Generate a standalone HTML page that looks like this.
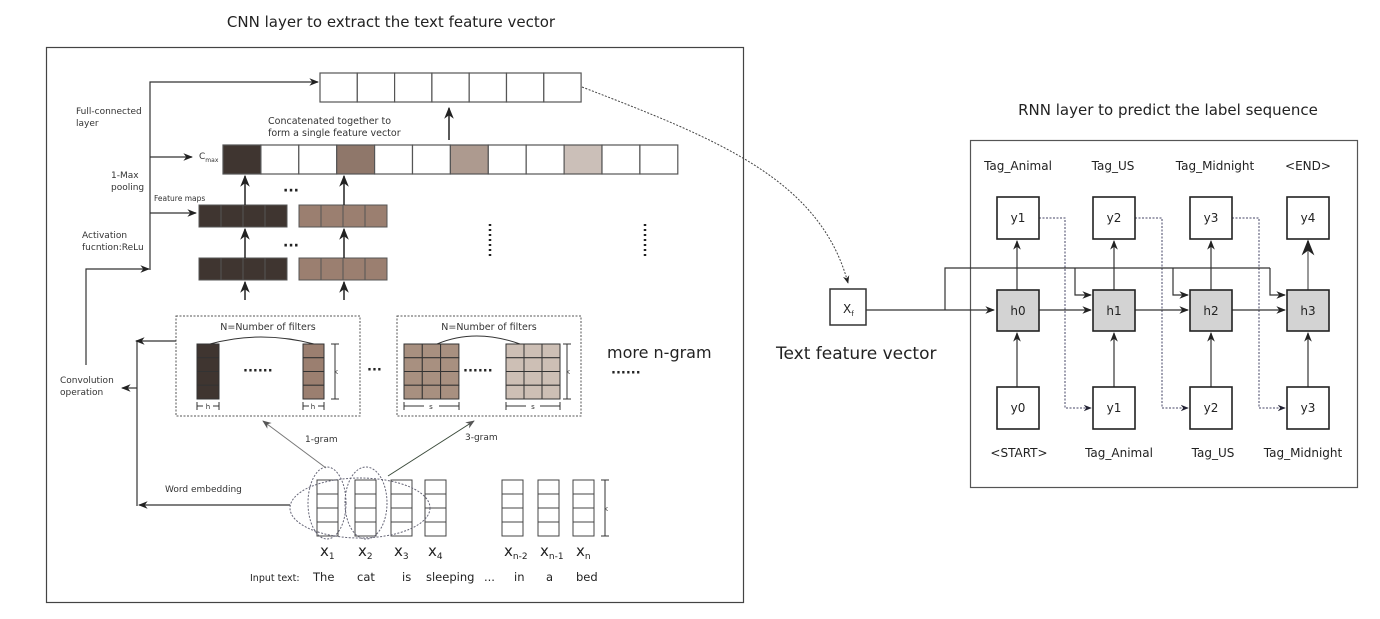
<!DOCTYPE html>
<html><head><meta charset="utf-8"><style>
html,body{margin:0;padding:0;background:#fff;}
svg{display:block;font-family:"DejaVu Sans","Liberation Sans",sans-serif;}
</style></head><body>
<svg width="1380" height="619" viewBox="0 0 1380 619" xmlns="http://www.w3.org/2000/svg">
<defs>
<marker id="a" viewBox="0 0 10 10" refX="9" refY="5" markerWidth="8" markerHeight="8" orient="auto-start-reverse"><path d="M0,1 L10,5 L0,9 L3,5 z" fill="#222"/></marker>
<marker id="b" viewBox="0 0 10 10" refX="9" refY="5" markerWidth="8" markerHeight="8" orient="auto"><path d="M0,1 L10,5 L0,9 L3,5 z" fill="#223"/></marker>
<marker id="g" viewBox="0 0 10 10" refX="9" refY="5" markerWidth="9" markerHeight="9" orient="auto"><path d="M0,1 L10,5 L0,9 L3,5 z" fill="#555"/></marker>
</defs>
<g fill="#222">
<text x="391" y="27" font-size="15" text-anchor="middle">CNN layer to extract the text feature vector</text>
<text x="1168" y="115" font-size="15" text-anchor="middle">RNN layer to predict the label sequence</text>
</g>
<rect x="46.5" y="47.5" width="697" height="555" fill="none" stroke="#444" stroke-width="1.2"/>
<!-- top vector -->
<g fill="#fff" stroke="#555" stroke-width="1.2">
<rect x="320" y="73" width="37.3" height="29"/><rect x="357.3" y="73" width="37.3" height="29"/><rect x="394.6" y="73" width="37.3" height="29"/><rect x="431.9" y="73" width="37.3" height="29"/><rect x="469.2" y="73" width="37.3" height="29"/><rect x="506.5" y="73" width="37.3" height="29"/><rect x="543.8" y="73" width="37.3" height="29"/>
</g>
<line x1="449" y1="140" x2="449" y2="108" stroke="#222" stroke-width="1.5" marker-end="url(#a)"/>
<text x="268" y="124" font-size="9.5" fill="#333">Concatenated together to</text>
<text x="268" y="136" font-size="9.5" fill="#333">form a single feature vector</text>
<!-- Cmax row -->
<g stroke="#555" stroke-width="1.2">
<rect x="223" y="145" width="37.9" height="29" fill="#3f3530"/>
<rect x="260.9" y="145" width="37.9" height="29" fill="#fff"/>
<rect x="298.8" y="145" width="37.9" height="29" fill="#fff"/>
<rect x="336.7" y="145" width="37.9" height="29" fill="#8f776a"/>
<rect x="374.6" y="145" width="37.9" height="29" fill="#fff"/>
<rect x="412.5" y="145" width="37.9" height="29" fill="#fff"/>
<rect x="450.4" y="145" width="37.9" height="29" fill="#ad9a8f"/>
<rect x="488.3" y="145" width="37.9" height="29" fill="#fff"/>
<rect x="526.2" y="145" width="37.9" height="29" fill="#fff"/>
<rect x="564.1" y="145" width="37.9" height="29" fill="#cbbfb8"/>
<rect x="602" y="145" width="37.9" height="29" fill="#fff"/>
<rect x="639.9" y="145" width="37.9" height="29" fill="#fff"/>
</g>
<text x="199" y="159" font-size="9" fill="#333">C<tspan font-size="6" dy="3">max</tspan></text>
<!-- feature maps -->
<g stroke="#555" stroke-width="1">
<rect x="199" y="205" width="22" height="22" fill="#3f3530"/><rect x="221" y="205" width="22" height="22" fill="#3f3530"/><rect x="243" y="205" width="22" height="22" fill="#3f3530"/><rect x="265" y="205" width="22" height="22" fill="#3f3530"/>
<rect x="299" y="205" width="22" height="22" fill="#9b7f70"/><rect x="321" y="205" width="22" height="22" fill="#9b7f70"/><rect x="343" y="205" width="22" height="22" fill="#9b7f70"/><rect x="365" y="205" width="22" height="22" fill="#9b7f70"/>
<rect x="199" y="258" width="22" height="22" fill="#3f3530"/><rect x="221" y="258" width="22" height="22" fill="#3f3530"/><rect x="243" y="258" width="22" height="22" fill="#3f3530"/><rect x="265" y="258" width="22" height="22" fill="#3f3530"/>
<rect x="299" y="258" width="22" height="22" fill="#9b7f70"/><rect x="321" y="258" width="22" height="22" fill="#9b7f70"/><rect x="343" y="258" width="22" height="22" fill="#9b7f70"/><rect x="365" y="258" width="22" height="22" fill="#9b7f70"/>
</g>
<g stroke="#222" stroke-width="1.5" marker-end="url(#a)">
<line x1="245" y1="300" x2="245" y2="282"/><line x1="344" y1="300" x2="344" y2="282"/>
<line x1="245" y1="258" x2="245" y2="229"/><line x1="344" y1="258" x2="344" y2="229"/>
<line x1="245" y1="205" x2="245" y2="176"/><line x1="344" y1="205" x2="344" y2="176"/>
</g>
<text x="283" y="195" font-size="14" fill="#222" font-weight="bold">···</text>
<text x="283" y="250" font-size="14" fill="#222" font-weight="bold">···</text>
<line x1="490" y1="224" x2="490" y2="258" stroke="#222" stroke-width="2.5" stroke-dasharray="2,3"/>
<line x1="645" y1="224" x2="645" y2="258" stroke="#222" stroke-width="2.5" stroke-dasharray="2,3"/>
<!-- left bracket arrows -->
<g stroke="#333" stroke-width="1.2" fill="none">
<polyline points="150,270 150,82 318,82" marker-end="url(#a)"/>
<line x1="150" y1="157" x2="192" y2="157" marker-end="url(#a)"/>
<line x1="150" y1="213" x2="196" y2="213" marker-end="url(#a)"/>
<polyline points="86,365 86,269 149,269" marker-end="url(#a)"/>
</g>
<g fill="#333" font-size="9">
<text x="76" y="114">Full-connected</text><text x="76" y="126">layer</text>
<text x="111" y="178">1-Max</text><text x="111" y="190">pooling</text>
<text x="154" y="201" font-size="7.5">Feature maps</text>
<text x="82" y="238">Activation</text><text x="82" y="250">fucntion:ReLu</text>
<text x="60" y="383">Convolution</text><text x="60" y="395">operation</text>
<text x="165" y="492">Word embedding</text>
</g>
<!-- filter boxes -->
<rect x="176" y="316" width="184" height="100" fill="none" stroke="#555" stroke-dasharray="2,1.5"/>
<rect x="397" y="316" width="184" height="100" fill="none" stroke="#555" stroke-dasharray="2,1.5"/>
<text x="268" y="330" font-size="9.5" text-anchor="middle" fill="#333">N=Number of filters</text>
<text x="489" y="330" font-size="9.5" text-anchor="middle" fill="#333">N=Number of filters</text>
<g stroke="#333" stroke-width="1">
<rect x="197" y="344" width="22" height="13.75" fill="#3f3530"/><rect x="197" y="357.75" width="22" height="13.75" fill="#3f3530"/><rect x="197" y="371.5" width="22" height="13.75" fill="#3f3530"/><rect x="197" y="385.25" width="22" height="13.75" fill="#3f3530"/>
<rect x="303" y="344" width="21" height="13.75" fill="#9b7f70"/><rect x="303" y="357.75" width="21" height="13.75" fill="#9b7f70"/><rect x="303" y="371.5" width="21" height="13.75" fill="#9b7f70"/><rect x="303" y="385.25" width="21" height="13.75" fill="#9b7f70"/>
</g>
<g stroke="#333" stroke-width="1" fill="#a89080">
<rect x="404" y="344" width="18.3" height="13.75"/><rect x="422.3" y="344" width="18.3" height="13.75"/><rect x="440.6" y="344" width="18.3" height="13.75"/>
<rect x="404" y="357.75" width="18.3" height="13.75"/><rect x="422.3" y="357.75" width="18.3" height="13.75"/><rect x="440.6" y="357.75" width="18.3" height="13.75"/>
<rect x="404" y="371.5" width="18.3" height="13.75"/><rect x="422.3" y="371.5" width="18.3" height="13.75"/><rect x="440.6" y="371.5" width="18.3" height="13.75"/>
<rect x="404" y="385.25" width="18.3" height="13.75"/><rect x="422.3" y="385.25" width="18.3" height="13.75"/><rect x="440.6" y="385.25" width="18.3" height="13.75"/>
</g>
<g stroke="#333" stroke-width="1" fill="#cdbfb5">
<rect x="506" y="344" width="18" height="13.75"/><rect x="524" y="344" width="18" height="13.75"/><rect x="542" y="344" width="18" height="13.75"/>
<rect x="506" y="357.75" width="18" height="13.75"/><rect x="524" y="357.75" width="18" height="13.75"/><rect x="542" y="357.75" width="18" height="13.75"/>
<rect x="506" y="371.5" width="18" height="13.75"/><rect x="524" y="371.5" width="18" height="13.75"/><rect x="542" y="371.5" width="18" height="13.75"/>
<rect x="506" y="385.25" width="18" height="13.75"/><rect x="524" y="385.25" width="18" height="13.75"/><rect x="542" y="385.25" width="18" height="13.75"/>
</g>
<path d="M210,344 Q260,330 314,344" fill="none" stroke="#333"/>
<path d="M437,344 Q475,328 520,344" fill="none" stroke="#333"/>
<g fill="#222" font-weight="bold" font-size="13">
<text x="243" y="375">······</text><text x="463" y="375">······</text><text x="367" y="374">···</text><text x="611" y="377">······</text>
</g>
<g stroke="#333" stroke-width="1" fill="none">
<path d="M335,344 V399 M331,344 H339 M331,399 H339"/>
<path d="M567,344 V399 M563,344 H571 M563,399 H571"/>
<path d="M197,402 V410 M219,402 V410 M197,406 H203 M213,406 H219"/>
<path d="M303,402 V410 M324,402 V410 M303,406 H309 M318,406 H324"/>
<path d="M404,402 V410 M459,402 V410 M404,406 H424 M439,406 H459"/>
<path d="M506,402 V410 M560,402 V410 M506,406 H526 M540,406 H560"/>
<path d="M605,480 V536 M601,480 H609 M601,536 H609"/>
</g>
<g font-size="7" fill="#333"><text x="336" y="374" text-anchor="middle">k</text><text x="568" y="374" text-anchor="middle">k</text><text x="606" y="511" text-anchor="middle">k</text>
<text x="208" y="409" text-anchor="middle">h</text><text x="313" y="409" text-anchor="middle">h</text><text x="431" y="409" text-anchor="middle">s</text><text x="533" y="409" text-anchor="middle">s</text></g>
<text x="607" y="358" font-size="16" fill="#222">more n-gram</text>
<g stroke="#333" stroke-width="1.2" fill="none">
<polyline points="176,341 137,341 137,506" />
<line x1="137" y1="341" x2="136" y2="341" marker-end="url(#a)"/>
<line x1="137" y1="388" x2="122" y2="388" marker-end="url(#a)"/>
<line x1="290" y1="505" x2="139" y2="505" marker-end="url(#a)"/>
</g>
<!-- word vectors -->
<g stroke="#444" stroke-width="1" fill="#fff">
<rect x="317" y="480" width="21" height="14"/><rect x="317" y="494" width="21" height="14"/><rect x="317" y="508" width="21" height="14"/><rect x="317" y="522" width="21" height="14"/>
<rect x="355" y="480" width="21" height="14"/><rect x="355" y="494" width="21" height="14"/><rect x="355" y="508" width="21" height="14"/><rect x="355" y="522" width="21" height="14"/>
<rect x="391" y="480" width="21" height="14"/><rect x="391" y="494" width="21" height="14"/><rect x="391" y="508" width="21" height="14"/><rect x="391" y="522" width="21" height="14"/>
<rect x="425" y="480" width="21" height="14"/><rect x="425" y="494" width="21" height="14"/><rect x="425" y="508" width="21" height="14"/><rect x="425" y="522" width="21" height="14"/>
<rect x="502" y="480" width="21" height="14"/><rect x="502" y="494" width="21" height="14"/><rect x="502" y="508" width="21" height="14"/><rect x="502" y="522" width="21" height="14"/>
<rect x="538" y="480" width="21" height="14"/><rect x="538" y="494" width="21" height="14"/><rect x="538" y="508" width="21" height="14"/><rect x="538" y="522" width="21" height="14"/>
<rect x="573" y="480" width="21" height="14"/><rect x="573" y="494" width="21" height="14"/><rect x="573" y="508" width="21" height="14"/><rect x="573" y="522" width="21" height="14"/>
</g>
<g fill="none" stroke="#667" stroke-width="1" stroke-dasharray="2,1.5">
<ellipse cx="360" cy="508" rx="70" ry="30"/>
<ellipse cx="327" cy="503" rx="19" ry="36"/>
<ellipse cx="366" cy="503" rx="21" ry="36"/>
</g>
<line x1="326" y1="468" x2="263" y2="421" stroke="#777" marker-end="url(#g)"/>
<line x1="388" y1="476" x2="474" y2="421" stroke="#3a4a3a" marker-end="url(#g)"/>
<text x="305" y="442" font-size="9" fill="#333">1-gram</text>
<text x="465" y="440" font-size="9" fill="#333">3-gram</text>
<g fill="#222" font-size="15">
<text x="320" y="556">x<tspan font-size="9" dy="3">1</tspan></text>
<text x="358" y="556">x<tspan font-size="9" dy="3">2</tspan></text>
<text x="394" y="556">x<tspan font-size="9" dy="3">3</tspan></text>
<text x="428" y="556">x<tspan font-size="9" dy="3">4</tspan></text>
<text x="504" y="556">x<tspan font-size="9" dy="3">n-2</tspan></text>
<text x="540" y="556">x<tspan font-size="9" dy="3">n-1</tspan></text>
<text x="576" y="556">x<tspan font-size="9" dy="3">n</tspan></text>
</g>
<g fill="#222" font-size="11.5">
<text x="250" y="581" font-size="9.5">Input text:</text>
<text x="313" y="581">The</text><text x="357" y="581">cat</text><text x="402" y="581">is</text><text x="426" y="581">sleeping</text><text x="484" y="581">...</text><text x="514" y="581">in</text><text x="546" y="581">a</text><text x="576" y="581">bed</text>
</g>
<!-- curve to Xf -->
<path d="M582,87 C720,140 820,180 848,283" fill="none" stroke="#444" stroke-dasharray="2,1.5" marker-end="url(#a)"/>
<rect x="830" y="289" width="36" height="36" fill="#fff" stroke="#333" stroke-width="1.5"/>
<text x="843" y="313" font-size="12" fill="#222">X<tspan font-size="7" dy="3">f</tspan></text>
<text x="776" y="359" font-size="17" fill="#222">Text feature vector</text>
<!-- RNN frame -->
<rect x="970.5" y="140.5" width="387" height="347" fill="none" stroke="#555" stroke-width="1.2"/>
<g font-size="12" fill="#222" text-anchor="middle">
<text x="1018" y="170">Tag_Animal</text><text x="1113" y="170">Tag_US</text><text x="1215" y="170">Tag_Midnight</text><text x="1308" y="170">&lt;END&gt;</text>
<text x="1019" y="457">&lt;START&gt;</text><text x="1119" y="457">Tag_Animal</text><text x="1213" y="457">Tag_US</text><text x="1303" y="457">Tag_Midnight</text>
</g>
<!-- dotted blue -->
<g fill="none" stroke="#446" stroke-width="1" stroke-dasharray="2,1.5">
<polyline points="1039,218 1065,218 1065,408 1091,408" marker-end="url(#b)"/>
<polyline points="1135,218 1162,218 1162,408 1188,408" marker-end="url(#b)"/>
<polyline points="1232,218 1259,218 1259,408 1285,408" marker-end="url(#b)"/>
</g>
<g stroke="#333" stroke-width="1.2" fill="none">
<line x1="866" y1="310" x2="994" y2="310" marker-end="url(#a)"/>
<polyline points="945,310 945,268 1270,268"/>
<polyline points="1075,268 1075,295 1091,295" marker-end="url(#a)"/>
<polyline points="1173,268 1173,295 1188,295" marker-end="url(#a)"/>
<polyline points="1270,268 1270,295 1285,295" marker-end="url(#a)"/>
<line x1="1039" y1="310" x2="1091" y2="310" marker-end="url(#a)"/>
<line x1="1135" y1="310" x2="1188" y2="310" marker-end="url(#a)"/>
<line x1="1232" y1="310" x2="1285" y2="310" marker-end="url(#a)"/>
<line x1="1017" y1="387" x2="1017" y2="333" marker-end="url(#a)"/>
<line x1="1114" y1="387" x2="1114" y2="333" marker-end="url(#a)"/>
<line x1="1211" y1="387" x2="1211" y2="333" marker-end="url(#a)"/>
<line x1="1308" y1="387" x2="1308" y2="333" marker-end="url(#a)"/>
<line x1="1017" y1="290" x2="1017" y2="241" marker-end="url(#a)"/>
<line x1="1114" y1="290" x2="1114" y2="241" marker-end="url(#a)"/>
<line x1="1211" y1="290" x2="1211" y2="241" marker-end="url(#a)"/>
<line x1="1308" y1="290" x2="1308" y2="241" stroke="#999" stroke-width="2" marker-end="url(#a)"/>
</g>
<g stroke="#222" stroke-width="1.6">
<rect x="997" y="197" width="42" height="42" fill="#fff"/><rect x="1093" y="197" width="42" height="42" fill="#fff"/><rect x="1190" y="197" width="42" height="42" fill="#fff"/><rect x="1287" y="197" width="42" height="42" fill="#fff"/>
<rect x="997" y="290" width="42" height="41" fill="#d3d3d3"/><rect x="1093" y="290" width="42" height="41" fill="#d3d3d3"/><rect x="1190" y="290" width="42" height="41" fill="#d3d3d3"/><rect x="1287" y="290" width="42" height="41" fill="#d3d3d3"/>
<rect x="997" y="387" width="42" height="42" fill="#fff"/><rect x="1093" y="387" width="42" height="42" fill="#fff"/><rect x="1190" y="387" width="42" height="42" fill="#fff"/><rect x="1287" y="387" width="42" height="42" fill="#fff"/>
</g>
<g font-size="12" fill="#222" text-anchor="middle">
<text x="1018" y="222">y1</text><text x="1114" y="222">y2</text><text x="1211" y="222">y3</text><text x="1308" y="222">y4</text>
<text x="1018" y="315">h0</text><text x="1114" y="315">h1</text><text x="1211" y="315">h2</text><text x="1308" y="315">h3</text>
<text x="1018" y="412">y0</text><text x="1114" y="412">y1</text><text x="1211" y="412">y2</text><text x="1308" y="412">y3</text>
</g>
</svg>
</body></html>
